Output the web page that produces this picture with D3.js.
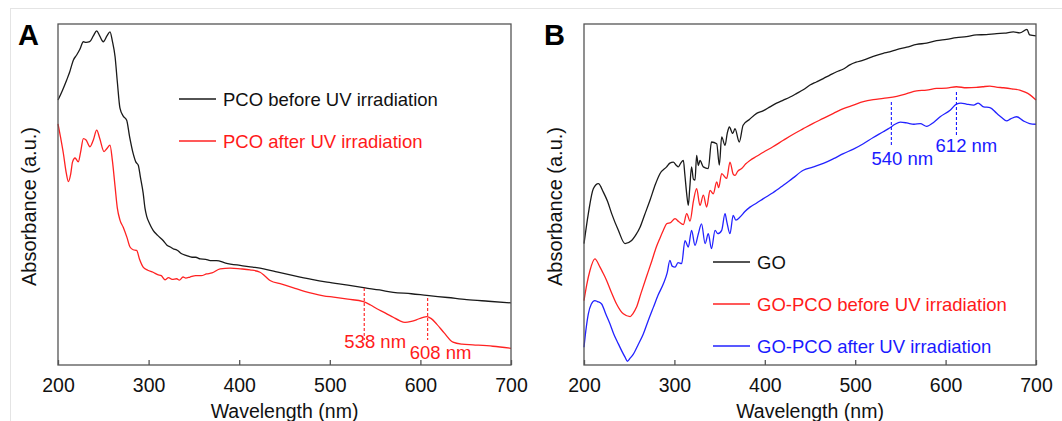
<!DOCTYPE html>
<html lang="en">
<head>
    <meta charset="UTF-8">
    <title>UV-Vis Absorbance</title>
    <script src="https://d3js.org/d3.v7.min.js"></script>
    <style>
        body { margin: 0; background: #fff; }
        svg { display: block; font-family: "Liberation Sans", Arial, sans-serif; }
    </style>
</head>
<body>
    <svg id="chart" width="1062" height="421"></svg>

    <script>
        // wavelength ticks (nm)
        const xTicks = [200, 300, 400, 500, 600, 700];

        // Panel A: [wavelength, absorbance a.u.]
        const pcoBefore = [
            [200,0.777],[205,0.806],[209.6,0.836],[213,0.86],[216.9,0.894],[220.6,0.909],[224,0.925],[228,0.948],
            [231,0.946],[235,0.948],[239,0.965],[242.7,0.98],[246,0.965],[250,0.948],[254,0.965],[257.4,0.977],
            [260,0.95],[263,0.904],[265.5,0.83],[268.4,0.753],[272,0.73],[275.8,0.718],[279,0.67],[283,0.62],
            [286,0.595],[288.6,0.586],[291,0.55],[294,0.504],[296,0.46],[298,0.435],[301,0.415],[305,0.395],
            [310,0.38],[316,0.365],[320,0.352],[324,0.346],[327,0.341],[332,0.336],[336,0.327],[342,0.321],
            [348,0.316],[352,0.316],[357,0.311],[363,0.31],[368,0.306],[375,0.306],[385,0.299],[401,0.292],
            [415,0.287],[427,0.282],[440,0.274],[460,0.262],[480,0.251],[497,0.243],[520,0.234],[539,0.226],
            [555,0.22],[570,0.213],[590,0.209],[607,0.204],[630,0.198],[651,0.192],[675,0.187],[700,0.182]
        ];
        const pcoAfter = [
            [200,0.707],[203,0.665],[205.9,0.621],[209,0.565],[211.4,0.538],[214,0.56],[216,0.595],[218.8,0.607],
            [222.4,0.596],[225,0.625],[228,0.664],[231,0.66],[235.3,0.64],[239,0.66],[242.7,0.689],[246,0.665],
            [250.8,0.626],[254,0.635],[257.4,0.645],[260,0.6],[263,0.523],[265.5,0.46],[268.4,0.425],[272,0.404],
            [276,0.375],[279.5,0.346],[283,0.338],[286.8,0.336],[290,0.31],[294,0.287],[299,0.278],[305,0.272],
            [310,0.265],[314,0.262],[318,0.25],[322,0.256],[326,0.251],[331,0.253],[334,0.249],[338,0.258],
            [341,0.255],[345.7,0.258],[352,0.262],[358,0.262],[364,0.267],[370,0.27],[379,0.282],[390,0.284],
            [401,0.282],[412,0.279],[423,0.272],[428,0.262],[434,0.248],[447,0.237],[460,0.226],[472,0.216],
            [482,0.209],[493,0.203],[504,0.199],[520,0.193],[537,0.186],[545,0.176],[552,0.165],[561,0.153],
            [570,0.14],[577,0.13],[583,0.125],[590,0.128],[596,0.133],[602,0.139],[607,0.142],[612,0.136],
            [618,0.12],[626,0.095],[636,0.067],[646,0.061],[658,0.059],[680,0.055],[700,0.049]
        ];

        // Panel B
        const goCurve = [
            [200,0.356],[204.8,0.444],[210.3,0.517],[215.9,0.532],[221.4,0.507],[226,0.48],[230.6,0.444],
            [238,0.395],[245.4,0.356],[252.7,0.365],[257,0.38],[262,0.404],[267,0.44],[273,0.483],[279,0.53],
            [284,0.561],[291.4,0.581],[295,0.592],[298.8,0.595],[302,0.586],[304.4,0.581],[307,0.592],[309.9,0.6],
            [311.5,0.56],[313.6,0.502],[315.4,0.468],[317,0.52],[319,0.581],[321,0.545],[322.8,0.542],
            [324.6,0.615],[326.5,0.585],[328.3,0.6],[332,0.581],[337.5,0.576],[341,0.654],[346.8,0.649],
            [349.7,0.586],[352.3,0.669],[356,0.644],[358.5,0.68],[360.8,0.698],[364.5,0.679],[367,0.693],
            [371.8,0.654],[376,0.703],[383,0.72],[391,0.738],[398,0.745],[405.8,0.757],[413,0.768],[420.5,0.777],
            [428,0.786],[435,0.796],[443,0.808],[450,0.821],[457,0.83],[464.7,0.84],[472,0.85],[479.5,0.86],
            [487,0.868],[494,0.88],[501,0.888],[509,0.894],[520,0.905],[531,0.914],[538,0.918],[546,0.925],
            [557,0.932],[568,0.94],[579,0.944],[590,0.951],[601,0.955],[612,0.96],[623,0.963],[634,0.968],
            [645,0.969],[656.5,0.972],[665,0.973],[675,0.977],[682,0.974],[690,0.984],[693,0.968],[700,0.965]
        ];
        const goPcoBefore = [
            [200,0.189],[203,0.235],[206.6,0.277],[212,0.311],[217.7,0.287],[221,0.27],[225,0.248],[230,0.215],
            [236,0.179],[243.5,0.15],[251,0.142],[254,0.15],[258,0.169],[263,0.21],[269,0.258],[275,0.305],
            [280,0.346],[284,0.372],[287.8,0.395],[291.4,0.414],[296,0.418],[300.7,0.429],[305,0.42],[309.9,0.412],
            [313.6,0.444],[317.3,0.422],[321,0.48],[324.6,0.517],[328.3,0.468],[332,0.498],[335.7,0.463],
            [339.4,0.512],[343,0.502],[346.8,0.537],[349,0.52],[352.3,0.561],[357.8,0.547],[361.5,0.595],
            [365,0.56],[367,0.556],[370,0.568],[374.4,0.576],[379,0.59],[383.6,0.6],[391,0.612],[398.4,0.624],
            [409,0.64],[420.5,0.659],[431,0.676],[442.6,0.693],[453,0.708],[464.7,0.723],[476,0.738],
            [486.9,0.752],[498,0.762],[509,0.772],[520,0.778],[531,0.782],[546,0.788],[557,0.796],[568,0.804],
            [579,0.806],[590,0.811],[601,0.812],[612,0.816],[623,0.813],[634,0.814],[641,0.816],[649,0.818],
            [656,0.815],[664,0.813],[673,0.81],[682,0.806],[688,0.8],[693,0.793],[700,0.777]
        ];
        const goPcoAfter = [
            [200,0.052],[202,0.1],[204.8,0.15],[208,0.178],[212,0.189],[215,0.186],[219.5,0.179],[224,0.15],
            [228.8,0.12],[233,0.09],[238,0.062],[242,0.04],[245.4,0.023],[248,0.011],[251,0.02],[254.6,0.032],
            [260,0.06],[265.6,0.091],[271,0.13],[276.7,0.169],[282,0.205],[287.8,0.238],[292,0.27],[295,0.307],
            [297.5,0.29],[300.7,0.287],[304,0.3],[308,0.297],[311.7,0.365],[315.4,0.346],[319,0.395],
            [322.8,0.351],[326.5,0.385],[330,0.414],[334,0.356],[337.5,0.385],[341,0.341],[345,0.395],
            [348,0.385],[352.3,0.395],[356,0.444],[358,0.42],[361.5,0.385],[365,0.439],[368,0.425],[372.6,0.434],
            [378,0.45],[383.6,0.463],[391,0.475],[398.4,0.488],[409,0.505],[420.5,0.527],[431,0.548],
            [442.6,0.571],[453,0.58],[464.7,0.591],[476,0.605],[486.9,0.62],[498,0.633],[509,0.649],[520,0.667],
            [531,0.684],[538,0.695],[544,0.706],[550,0.712],[557,0.71],[565,0.706],[572,0.708],[579,0.7],
            [587,0.712],[594,0.728],[605,0.747],[612,0.765],[617,0.768],[623,0.765],[631,0.762],[636,0.768],
            [642,0.757],[649,0.755],[656.5,0.738],[662,0.726],[667.5,0.716],[672,0.722],[678.5,0.728],
            [686,0.716],[693,0.708],[700,0.706]
        ];

        const legendA = ["PCO before UV irradiation", "PCO after UV irradiation"];
        const legendB = ["GO", "GO-PCO before UV irradiation", "GO-PCO after UV irradiation"];
        const peaksA = [538, 608];
        const peaksB = [540, 612];

        const svg = d3.select("#chart");

        // faint outer frame of the figure
        svg.append("rect").attr("x", 10.5).attr("y", 8.5).attr("width", 1060).attr("height", 420)
            .attr("fill", "none").attr("stroke", "#e4e4e4");

        const yTop = 24, yBot = 365;
        const y = d3.scaleLinear().domain([0, 1]).range([yBot, yTop]);

        function drawPanel(opt) {
            const x = d3.scaleLinear().domain([200, 700]).range([opt.left, opt.right]);
            const g = svg.append("g");
            const line = d3.line().x(d => x(d[0])).y(d => y(d[1])).curve(d3.curveMonotoneX);

            opt.series.forEach(s => {
                g.append("path").datum(s.data).attr("d", line)
                    .attr("fill", "none").attr("stroke", s.color).attr("stroke-width", 1.3);
            });

            // frame
            g.append("rect").attr("x", opt.left).attr("y", yTop)
                .attr("width", opt.right - opt.left).attr("height", yBot - yTop)
                .attr("fill", "none").attr("stroke", "#555").attr("stroke-width", 1.3);

            // bottom axis, ticks inward
            const ax = g.append("g").attr("transform", `translate(0,${yBot})`)
                .call(d3.axisBottom(x).tickValues(xTicks).tickSizeInner(-5).tickSizeOuter(0).tickPadding(13));
            ax.select(".domain").remove();
            ax.selectAll(".tick line").attr("stroke", "#555").attr("stroke-width", 1.3);
            ax.selectAll(".tick text").attr("font-size", 19.5).attr("fill", "#111")
                .attr("font-family", "Liberation Sans, Arial, sans-serif");

            g.append("text").attr("x", (opt.left + opt.right) / 2).attr("y", 418)
                .attr("text-anchor", "middle").attr("font-size", 19.5).attr("fill", "#111")
                .text("Wavelength (nm)");
            g.append("text").attr("transform", `translate(${opt.left - 22},${(yTop + 365) / 2 + 12}) rotate(-90)`)
                .attr("text-anchor", "middle").attr("font-size", 20).attr("fill", "#111")
                .text("Absorbance (a.u.)");
            g.append("text").attr("x", opt.left - 40).attr("y", 45)
                .attr("font-size", 29).attr("font-weight", "bold").attr("fill", "#000")
                .text(opt.letter);

            // legend
            opt.series.forEach((s, i) => {
                const ly = opt.legY + i * opt.legStep;
                g.append("line").attr("x1", opt.legX).attr("x2", opt.legX + 37)
                    .attr("y1", ly).attr("y2", ly).attr("stroke", s.color).attr("stroke-width", 1.3);
                g.append("text").attr("x", opt.legX + 44).attr("y", ly + 6.5)
                    .attr("font-size", 18.5).attr("fill", s.text).text(s.label);
            });

            // peak markers
            opt.peaks.forEach(p => {
                g.append("line").attr("x1", x(p.wl)).attr("x2", x(p.wl))
                    .attr("y1", p.y1).attr("y2", p.y2)
                    .attr("stroke", p.color).attr("stroke-width", 1.1).attr("stroke-dasharray", "3,2");
                g.append("text").attr("x", x(p.wl) + p.dx).attr("y", p.ty)
                    .attr("text-anchor", "middle").attr("font-size", 18.5).attr("fill", p.color)
                    .text(p.wl + " nm");
            });
        }

        drawPanel({
            letter: "A", left: 58, right: 511, legX: 179, legY: 99, legStep: 42,
            series: [
                { data: pcoBefore, color: "#1a1a1a", text: "#111", label: legendA[0] },
                { data: pcoAfter, color: "#ff2222", text: "#ff1a1a", label: legendA[1] }
            ],
            peaks: [
                { wl: peaksA[0], y1: 288, y2: 340, color: "#ff1a1a", dx: 11, ty: 348 },
                { wl: peaksA[1], y1: 298, y2: 340, color: "#ff1a1a", dx: 13, ty: 359 }
            ]
        });

        drawPanel({
            letter: "B", left: 584, right: 1036, legX: 713, legY: 262, legStep: 42,
            series: [
                { data: goCurve, color: "#1a1a1a", text: "#111", label: legendB[0] },
                { data: goPcoBefore, color: "#ff2222", text: "#ff1a1a", label: legendB[1] },
                { data: goPcoAfter, color: "#2222ff", text: "#1a1aff", label: legendB[2] }
            ],
            peaks: [
                { wl: peaksB[0], y1: 102, y2: 146, color: "#1a1aff", dx: 11, ty: 165 },
                { wl: peaksB[1], y1: 92, y2: 135, color: "#1a1aff", dx: 10, ty: 152 }
            ]
        });
    </script>
</body>
</html>
